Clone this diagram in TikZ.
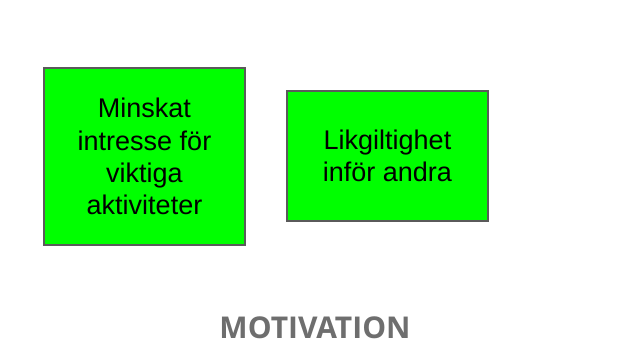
\documentclass[tikz,border=0pt]{standalone}
\usepackage{fontspec}
\setmainfont{Liberation Sans}
\newfontfamily\titlefont{Open Sans}
\usepackage{tikz}
\usepackage{xcolor}
\definecolor{boxgreen}{RGB}{0,255,0}
\definecolor{edgegrey}{RGB}{90,90,90}
\definecolor{titlegrey}{RGB}{110,110,110}
\tikzset{
  causebox/.style={draw=edgegrey, line width=1.4pt, fill=boxgreen, align=center,
    inner sep=0pt, font=\fontsize{27}{32.3}\selectfont}
}

\begin{document}
\begin{tikzpicture}[x=1pt, y=-1pt]
        \useasboundingbox[fill=white] (0,0) rectangle (626,359);

        % Causes
        \node[causebox, minimum width=201pt, minimum height=177pt]
          (minskat) at (144.5,156.5) {Minskat\\intresse för\\viktiga\\aktiviteter};
        \node[causebox, minimum width=201pt, minimum height=130pt]
          (likgiltig) at (387.5,156) {Likgiltighet\\inför andra};

        % Title
        \node[titlegrey, font=\titlefont\bfseries\fontsize{30}{34}\selectfont]
          (titel) at (315,328) {MOTIVATION};
      \end{tikzpicture}
\end{document}
